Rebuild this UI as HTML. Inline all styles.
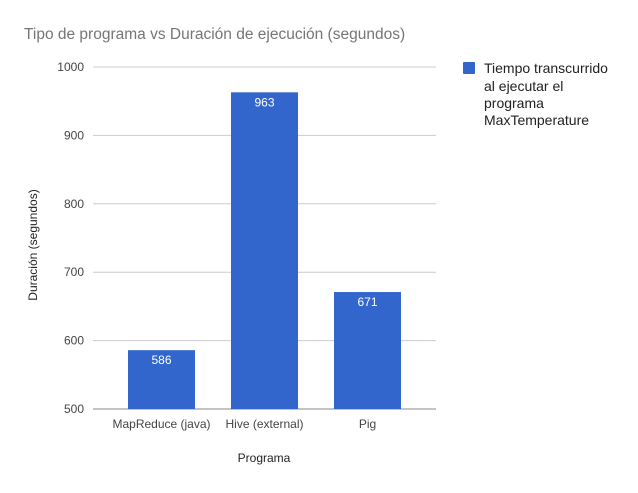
<!DOCTYPE html>
<html><head><meta charset="utf-8"><style>
body{margin:0;background:#fff;font-family:"Liberation Sans",sans-serif}
</style></head><body>
<svg width="638" height="488" id="c" font-family="Liberation Sans, sans-serif">
<rect width="638" height="488" fill="#fff"/>
<text x="24" y="39" font-size="15.5" fill="#757575">Tipo de programa vs Duración de ejecución (segundos)</text>
<g id="grid"></g><g id="bars"></g>
<text x="264" y="462" font-size="12" fill="#222" text-anchor="middle">Programa</text>
<text transform="translate(37,245) rotate(-90)" font-size="12" fill="#222" text-anchor="middle">Duración (segundos)</text>
<g>
<rect x="463" y="62" width="12" height="12" fill="#3366cc" rx="1"/>
<text font-size="14" fill="#222"><tspan x="484" y="73">Tiempo transcurrido</tspan><tspan x="484" y="91">al ejecutar el</tspan><tspan x="484" y="108">programa</tspan><tspan x="484" y="125">MaxTemperature</tspan></text>
</g>
</svg>
<script>
const categories=["MapReduce (java)","Hive (external)","Pig"];
const values=[586,963,671];
const ticks=[500,600,700,800,900,1000];
const NS="http://www.w3.org/2000/svg";
const x0=93,x1=436,yMin=500,yMax=1000,yTop=67,yBot=409;
const y=v=>yBot-(v-yMin)/(yMax-yMin)*(yBot-yTop);
const band=103,start=110;
const xc=i=>start+band*i+band/2;
function mk(t,a,p){const e=document.createElementNS(NS,t);for(const k in a)e.setAttribute(k,a[k]);p.appendChild(e);return e;}
const g=document.getElementById('grid'),b=document.getElementById('bars');
ticks.forEach(t=>{
 const l=mk('line',{x1:x0,x2:x1,y1:y(t),y2:y(t),stroke:t===yMin?'#888':'#ccc','stroke-width':1},g);
 
 
 const tx=mk('text',{x:84,y:y(t)+4,'font-size':12,fill:'#444','text-anchor':'end'},g);tx.textContent=t;
 
 
});
categories.forEach((c,i)=>{
 const r=mk('rect',{x:xc(i)-33.5,y:y(values[i]),width:67,height:yBot-y(values[i]),fill:'#3366cc'},b);
 
 
 const v=mk('text',{x:xc(i),y:y(values[i])+14,'font-size':12,fill:'#fff','text-anchor':'middle'},b);v.textContent=values[i];
 
 
 const t=mk('text',{x:xc(i),y:428,'font-size':12,fill:'#444','text-anchor':'middle'},b);t.textContent=c;
 
 
});
mk('line',{x1:x0,x2:x1,y1:yBot,y2:yBot,stroke:'#888'},g);
</script>
</body></html>
